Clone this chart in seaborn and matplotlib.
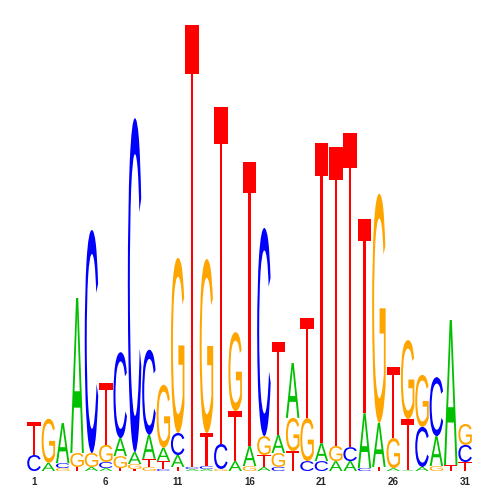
import matplotlib
matplotlib.use('Agg')
import matplotlib.pyplot as plt
import seaborn as sns
from matplotlib.textpath import TextPath
from matplotlib.patches import PathPatch
from matplotlib.font_manager import FontProperties
from matplotlib.transforms import Affine2D

# information content (bits) per base at each of the 31 positions
positions = list(range(1, 32))
A = [0, 0.036, 0.178, 0.689, 0.018, 0.013, 0.08, 0.053, 0.107, 0.058, 0.053, 0.009, 0.009, 0, 0.044, 0.089,
     0.018, 0.08, 0.244, 0, 0.08, 0.044, 0.044, 0.244, 0.196, 0.013, 0.004, 0.018, 0.133, 0.644, 0]
C = [0.071, 0, 0.022, 0, 0.991, 0.027, 0.382, 1.484, 0.378, 0.009, 0.098, 0.009, 0.013, 0.111, 0, 0,
     0.925, 0.018, 0, 0.044, 0.044, 0, 0.062, 0.013, 0, 0, 0, 0.178, 0.262, 0, 0.076]
G = [0, 0.196, 0.013, 0.062, 0.062, 0.076, 0.053, 0.022, 0.018, 0.28, 0.778, 0, 0.773, 0.009, 0.351, 0.022,
     0.084, 0.062, 0.147, 0.191, 0, 0.067, 0, 0, 1.018, 0.133, 0.351, 0.231, 0.022, 0, 0.093]
T = [0.147, 0, 0, 0.018, 0, 0.276, 0.013, 0.009, 0.036, 0.036, 0.018, 1.964, 0.147, 1.498, 0.222, 1.262,
     0.053, 0.413, 0.089, 0.444, 1.333, 1.329, 1.396, 0.862, 0.018, 0.316, 0.227, 0, 0, 0.027, 0.04]
tick_positions = [1, 6, 11, 16, 21, 26, 31]

colors = {'A': '#00C000', 'C': '#0000FF', 'G': '#FFA500', 'T': '#FF0000'}

sns.set_style('white')
fig = plt.figure(figsize=(5, 5), dpi=100)
ax = fig.add_axes([0.0536, 0.058, 0.891, 0.9])
fp = FontProperties(family='Liberation Sans')


def draw_letter(ax, letter, x, y, h, color, width=0.94):
    # glyph stretched to fill its box, like a sequence logo
    path = TextPath((0, 0), letter, size=1, prop=fp)
    ext = path.get_extents()
    tr = (Affine2D().translate(-ext.x0, -ext.y0)
          .scale(width / ext.width, h / ext.height)
          .translate(x - width / 2, y))
    ax.add_patch(PathPatch(tr.transform_path(path), fc=color, ec='none', lw=0))


for i, pos in enumerate(positions):
    column = {'A': A[i], 'C': C[i], 'G': G[i], 'T': T[i]}
    y = 0
    # smallest at the bottom, largest on top
    for letter, h in sorted(column.items(), key=lambda kv: kv[1]):
        if h <= 0:
            continue
        draw_letter(ax, letter, pos, y, h, colors[letter])
        y += h

ax.set_xlim(0.5, 31.5)
ax.set_ylim(0, 2)
ax.set_xticks(tick_positions)
ax.set_xticklabels([str(t) for t in tick_positions], fontsize=7, fontweight='bold', family='Liberation Sans')
ax.tick_params(axis='x', length=0, pad=4)
ax.set_yticks([])
sns.despine(ax=ax, left=True, bottom=True)

fig.savefig('out.png', dpi=100)
plt.close()
